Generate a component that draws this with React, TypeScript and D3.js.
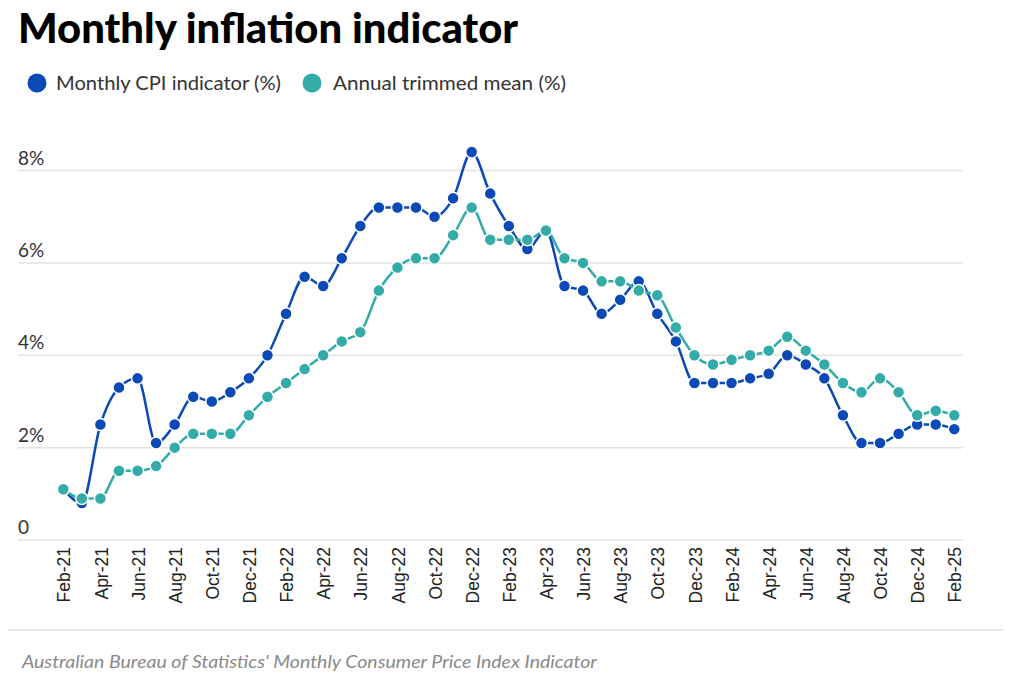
import React from 'react';
import { scalePoint, scaleLinear, line, curveMonotoneX } from 'd3';

const months = [
  'Feb-21', 'Mar-21', 'Apr-21', 'May-21', 'Jun-21', 'Jul-21', 'Aug-21', 'Sep-21', 'Oct-21', 'Nov-21', 'Dec-21',
  'Jan-22', 'Feb-22', 'Mar-22', 'Apr-22', 'May-22', 'Jun-22', 'Jul-22', 'Aug-22', 'Sep-22', 'Oct-22', 'Nov-22', 'Dec-22',
  'Jan-23', 'Feb-23', 'Mar-23', 'Apr-23', 'May-23', 'Jun-23', 'Jul-23', 'Aug-23', 'Sep-23', 'Oct-23', 'Nov-23', 'Dec-23',
  'Jan-24', 'Feb-24', 'Mar-24', 'Apr-24', 'May-24', 'Jun-24', 'Jul-24', 'Aug-24', 'Sep-24', 'Oct-24', 'Nov-24', 'Dec-24',
  'Jan-25', 'Feb-25'
];

// Monthly CPI indicator (%)
const cpi = [
  1.1, 0.8, 2.5, 3.3, 3.5, 2.1, 2.5, 3.1, 3.0, 3.2, 3.5,
  4.0, 4.9, 5.7, 5.5, 6.1, 6.8, 7.2, 7.2, 7.2, 7.0, 7.4, 8.4,
  7.5, 6.8, 6.3, 6.7, 5.5, 5.4, 4.9, 5.2, 5.6, 4.9, 4.3, 3.4,
  3.4, 3.4, 3.5, 3.6, 4.0, 3.8, 3.5, 2.7, 2.1, 2.1, 2.3, 2.5,
  2.5, 2.4
];

// Annual trimmed mean (%)
const trimmed = [
  1.1, 0.9, 0.9, 1.5, 1.5, 1.6, 2.0, 2.3, 2.3, 2.3, 2.7,
  3.1, 3.4, 3.7, 4.0, 4.3, 4.5, 5.4, 5.9, 6.1, 6.1, 6.6, 7.2,
  6.5, 6.5, 6.5, 6.7, 6.1, 6.0, 5.6, 5.6, 5.4, 5.3, 4.6, 4.0,
  3.8, 3.9, 4.0, 4.1, 4.4, 4.1, 3.8, 3.4, 3.2, 3.5, 3.2, 2.7,
  2.8, 2.7
];

const yTicks = [0, 2, 4, 6, 8];
const tickMonths = months.filter((_, i) => i % 2 === 0);

const BLUE = '#0b4ab6';
const TEAL = '#33aca9';
const FONT = 'Lato, "Noto Sans", sans-serif';

export default function App() {
  const width = 1024;
  const height = 692;

  const x = scalePoint<string>().domain(months).range([63.3, 954.3]);
  const y = scaleLinear().domain([0, 8]).range([540, 170.5]);

  const path = line<number>()
    .x((_, i) => x(months[i]) as number)
    .y(d => y(d))
    .curve(curveMonotoneX);

  const series = [
    { name: 'Monthly CPI indicator (%)', values: cpi, color: BLUE },
    { name: 'Annual trimmed mean (%)', values: trimmed, color: TEAL }
  ];

  return (
    <svg
      width={width}
      height={height}
      style={{ position: 'absolute', left: 0, top: 0, background: '#fff' }}
      fontFamily={FONT}
    >
      <text x={18} y={43} fontSize={41} fontWeight={900} fill="#000" textLength={500} lengthAdjust="spacingAndGlyphs">
        Monthly inflation indicator
      </text>

      {/* legend */}
      <circle cx={37} cy={83} r={9.5} fill={BLUE} />
      <text x={56} y={90} fontSize={19} fill="#333" textLength={225} lengthAdjust="spacingAndGlyphs">
        Monthly CPI indicator (%)
      </text>
      <circle cx={312} cy={83} r={9.5} fill={TEAL} />
      <text x={333} y={90} fontSize={19} fill="#333" textLength={233} lengthAdjust="spacingAndGlyphs">
        Annual trimmed mean (%)
      </text>

      {/* grid + y labels */}
      {yTicks.map(t => (
        <g key={t}>
          <line x1={18} x2={963} y1={y(t)} y2={y(t)} stroke="#e3e3e3" strokeWidth={1.5} />
          <text x={18} y={y(t) - 6} fontSize={19} fill="#333">
            {t === 0 ? '0' : `${t}%`}
          </text>
        </g>
      ))}

      {/* x labels */}
      {tickMonths.map(m => (
        <text
          key={m}
          transform={`translate(${(x(m) as number) + 1},547) rotate(-90)`}
          textAnchor="end"
          dy="0.35em"
          fontSize={17.5}
          fontFamily='"Liberation Sans", Arial, sans-serif'
          fill="#222"
        >
          {m}
        </text>
      ))}

      {/* series */}
      {series.map(s => (
        <g key={s.name}>
          <path d={path(s.values) || ''} fill="none" stroke={s.color} strokeWidth={2.5} />
          {s.values.map((v, i) => (
            <circle
              key={i}
              cx={x(months[i]) as number}
              cy={y(v)}
              r={6}
              fill={s.color}
              stroke="#fff"
              strokeWidth={1.5}
            />
          ))}
        </g>
      ))}

      <line x1={8} x2={1003} y1={630} y2={630} stroke="#dcdcdc" strokeWidth={1.5} />
      <text x={22} y={668} fontSize={18} fontStyle="italic" fill="#8a8a8a" textLength={575} lengthAdjust="spacingAndGlyphs">
        Australian Bureau of Statistics' Monthly Consumer Price Index Indicator
      </text>
    </svg>
  );
}
